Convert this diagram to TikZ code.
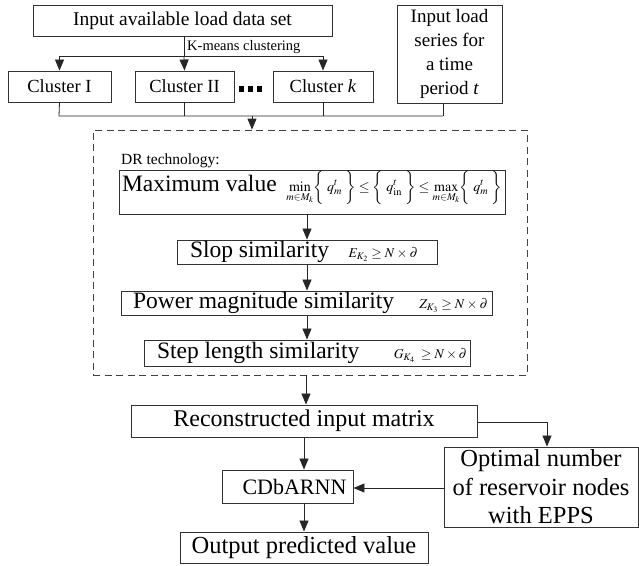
\documentclass[tikz,border=0pt]{standalone}
\usepackage{mathptmx}
\usepackage[no-math]{fontspec}
\setmainfont{Liberation Serif}
\usetikzlibrary{arrows.meta}
\tikzset{
  box/.style={draw=black!80, line width=0.9pt, rectangle, inner sep=0pt, align=center},
  flow/.style={draw=black!85, line width=0.8pt},
  arr/.style={flow, -{Triangle[length=11pt,width=9pt]}},
  dotsq/.style={fill=black, inner sep=0pt, minimum width=5pt, minimum height=6pt},
}
\newcommand{\fs}[1]{\fontsize{#1}{#1}\selectfont}
% tighter operator spacing for the small formulas
\newcommand{\tightmath}{\medmuskip=3mu\thickmuskip=4mu}
% a criterion row: label on the left, formula on the right, in a fixed width
\newcommand{\critrow}[4]{\hspace*{#1pt}\makebox[#2pt]{#3\hfill#4}}
\begin{document}
\begin{tikzpicture}[x=1pt,y=-1pt]
\useasboundingbox (0,0) rectangle (639,565);

% data input and clustering
\node[box, minimum width=299pt, minimum height=31pt] (data) at (182.5,20.5) {\fs{19.5}Input available load data set};
\node[box, minimum width=105pt, minimum height=98pt, font=\fontsize{19}{24}\selectfont] (series) at (449.5,54)
  {Input load\\series for\\a time\\period \textit{t}};
\node[box, minimum width=103pt, minimum height=31pt] (c1) at (59.5,86.5) {\fs{18.5}Cluster I};
\node[box, minimum width=99pt, minimum height=31pt] (c2) at (184.5,86.5) {\fs{18.5}Cluster II};
\node[box, minimum width=100pt, minimum height=31pt] (ck) at (323,86.5) {\fs{18.5}Cluster \textit{k}};
\node[dotsq] (d1) at (241.5,88.5) {};
\node[dotsq] (d2) at (250.5,88.5) {};
\node[dotsq] (d3) at (259.5,88.5) {};

\coordinate (split) at (184,56);
\draw[flow] (data.south -| split) -- (split);
\node[anchor=base west, inner sep=0pt] (km) at (187,50) {\fs{14.5}K-means clustering};
\draw[arr] (split) -| (c1.north);
\draw[arr] (split) -- (c2.north);
\draw[arr] (split) -| (ck.north);

% gathering line below the clusters
\coordinate (gl) at (59,116);
\coordinate (gr) at (443,116);
\coordinate (gm) at (252,116);
\draw[flow] (c1.south) -- (gl) -- (gr);
\draw[flow] (c2.south) -- (c2.south |- gl);
\draw[flow] (ck.south) -- (ck.south |- gl);
\draw[flow] (series.south -| gr) -- (gr);

% DR technology block
\node[draw=black!75, dash pattern=on 7pt off 4.5pt, line width=0.8pt, rectangle, inner sep=0pt,
      minimum width=434pt, minimum height=245pt] (dr) at (310,252.5) {};
\draw[arr] (gm) -- (gm |- dr.north);
\node[anchor=base west, inner sep=0pt] (drlab) at (121,164) {\fs{15.5}DR technology:};

\node[box, minimum width=386pt, minimum height=44pt, text height=12pt, text depth=14pt] (maxv) at (312,192)
  {\critrow{0}{380}{\fs{23.5}Maximum value}{\fs{14}$\min\limits_{m\in M_k}\biggl\{\;q_m^t\;\biggr\}\le\biggl\{\;q_{\mathrm{in}}^t\;\biggr\}\le\max\limits_{m\in M_k}\biggl\{\;q_m^t\;\biggr\}$}};
\node[box, minimum width=260pt, minimum height=24pt] (slop) at (307,252)
  {\critrow{-6}{228}{\fs{23.5}Slop similarity}{\fs{13.5}\tightmath$E_{K_2}\ge N\times\partial$}};
\node[box, minimum width=371pt, minimum height=24pt] (pow) at (306.5,303)
  {\critrow{8}{355}{\fs{23.5}Power magnitude similarity}{\fs{13.5}\tightmath$Z_{K_3}\ge N\times\partial$}};
\node[box, minimum width=326pt, minimum height=26pt] (stepl) at (307,353)
  {\critrow{10}{310}{\fs{23.5}Step length similarity}{\fs{13.5}$G_{K_4}\;\ge N\times\partial$}};

\draw[arr] (maxv.south -| slop.north) -- (slop.north);
\draw[arr] (slop.south) -- (slop.south |- pow.north);
\draw[arr] (pow.south -| slop.south) -- (slop.south |- stepl.north);

% reconstruction and forecasting
\node[box, minimum width=346pt, minimum height=32pt] (rec) at (304,421) {\fs{24}Reconstructed input matrix};
\node[box, minimum width=131pt, minimum height=33pt] (cdb) at (287.5,486.5) {\hspace*{14pt}\fs{22}CDbARNN};
\node[box, minimum width=248pt, minimum height=31pt] (out) at (304,547.5) {\fs{24.5}Output predicted value};
\node[box, minimum width=194pt, minimum height=80pt, font=\fontsize{24.5}{28.5}\selectfont] (opt) at (541,487)
  {Optimal number\\of reservoir nodes\\with EPPS};

\coordinate (drout) at (306,375);
\draw[arr] (drout) -- (drout |- rec.north);
\coordinate (turn) at (547,422);
\coordinate (side) at (0,488);
\draw[arr] (rec.east |- turn) -- (turn) -- (turn |- opt.north);
\draw[arr] (rec.south) -- (rec.south |- cdb.north);
\draw[arr] (opt.west |- side) -- (cdb.east |- side);
\draw[arr] (rec.south |- cdb.south) -- (rec.south |- out.north);
\end{tikzpicture}
\end{document}
